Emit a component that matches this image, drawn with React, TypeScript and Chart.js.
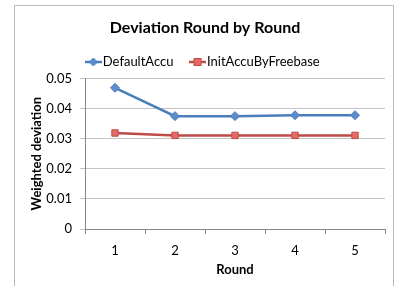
import React, { useEffect, useRef } from "react";
import { Chart, registerables } from "chart.js";

Chart.register(...registerables);

const rounds = ["1", "2", "3", "4", "5"];
const defaultAccu = [0.0469, 0.0375, 0.0375, 0.0378, 0.0378];
const initAccuByFreebase = [0.0319, 0.0311, 0.0311, 0.0311, 0.0311];
const yTicks = [0, 0.01, 0.02, 0.03, 0.04, 0.05];
const yTickLabels = ["0", "0.01", "0.02", "0.03", "0.04", "0.05"];

const BLUE = "#4A7EBB";
const BLUE_FILL = "#5B8DCB";
const RED = "#BE4B48";
const RED_FILL = "#E56B68";
const FONT = "Lato, 'Open Sans', sans-serif";

function legendImage(kind: "diamond" | "square"): HTMLCanvasElement {
  const c = document.createElement("canvas");
  c.width = 17;
  c.height = 10;
  const ctx = c.getContext("2d")!;
  ctx.strokeStyle = kind === "diamond" ? BLUE : RED;
  ctx.lineWidth = 2.5;
  ctx.beginPath();
  ctx.moveTo(0, 5);
  ctx.lineTo(17, 5);
  ctx.stroke();
  if (kind === "diamond") {
    ctx.fillStyle = BLUE_FILL;
    ctx.strokeStyle = BLUE;
    ctx.lineWidth = 1;
    ctx.beginPath();
    ctx.moveTo(8.5, 1);
    ctx.lineTo(12.5, 5);
    ctx.lineTo(8.5, 9);
    ctx.lineTo(4.5, 5);
    ctx.closePath();
    ctx.fill();
    ctx.stroke();
  } else {
    ctx.fillStyle = RED_FILL;
    ctx.strokeStyle = RED;
    ctx.lineWidth = 1;
    ctx.fillRect(5, 1.5, 7, 7);
    ctx.strokeRect(5, 1.5, 7, 7);
  }
  return c;
}

export default function App() {
  const ref = useRef<HTMLCanvasElement | null>(null);
  useEffect(() => {
    if (!ref.current) return;
    const imgs = [legendImage("diamond"), legendImage("square")];
    const chart = new Chart(ref.current, {
      type: "line",
      data: {
        labels: rounds,
        datasets: [
          {
            label: "DefaultAccu",
            data: defaultAccu,
            borderColor: BLUE,
            backgroundColor: BLUE_FILL,
            borderWidth: 2.5,
            pointStyle: "rectRot",
            pointRadius: 4.5,
            pointBorderWidth: 1,
            pointBorderColor: BLUE,
            pointBackgroundColor: BLUE_FILL,
            tension: 0,
          },
          {
            label: "InitAccuByFreebase",
            data: initAccuByFreebase,
            borderColor: RED,
            backgroundColor: RED_FILL,
            borderWidth: 2.5,
            pointStyle: "rect",
            pointRadius: 4.5,
            pointBorderWidth: 1,
            pointBorderColor: RED,
            pointBackgroundColor: RED_FILL,
            tension: 0,
          },
        ],
      },
      options: {
        animation: false,
        responsive: false,
        maintainAspectRatio: false,
        layout: { padding: { left: 11, right: 9, top: 0, bottom: 0 } },
        plugins: {
          tooltip: { enabled: false },
          title: {
            display: true,
            text: "Deviation Round by Round",
            color: "#000",
            font: { family: FONT, size: 16, weight: "bold" },
            padding: { top: 13, bottom: -2.7 },
          },
          legend: {
            display: true,
            position: "top",
            labels: {
              usePointStyle: true,
              pointStyleWidth: 6,
              padding: 21,
              color: "#000",
              font: { family: FONT, size: 13 },
              generateLabels: (ch: any) => {
                const items = Chart.defaults.plugins.legend.labels.generateLabels(ch);
                return items.map((it: any, i: number) => ({ ...it, pointStyle: imgs[i] }));
              },
            },
          },
        },
        scales: {
          x: {
            type: "category",
            offset: true,
            grid: {
              display: true,
              drawOnChartArea: false,
              drawTicks: true,
              tickLength: 5,
              offset: true,
              color: "#868686",
            },
            border: { display: true, color: "#868686", width: 1 },
            ticks: { color: "#000", padding: 9, font: { family: FONT, size: 13 } },
            title: {
              display: true,
              text: "Round",
              color: "#000",
              font: { family: FONT, size: 13, weight: "bold" },
              padding: { top: 2, bottom: 8.5 },
            },
            afterFit: (s: any) => {
              s.height = 57;
            },
          },
          y: {
            type: "linear",
            min: 0,
            max: 0.05,
            afterBuildTicks: (s: any) => {
              s.ticks = yTicks.map((v) => ({ value: v }));
            },
            grid: {
              display: true,
              color: "#c4c4c4",
              drawTicks: true,
              tickLength: 5,
              lineWidth: 1,
            },
            border: { display: true, color: "#868686", width: 1 },
            ticks: {
              color: "#000",
              padding: 8,
              font: { family: FONT, size: 13 },
              callback: (_v: any, i: number) => yTickLabels[i],
            },
            title: {
              display: true,
              text: "Weighted deviation",
              color: "#000",
              font: { family: FONT, size: 13, weight: "bold" },
              padding: { top: 4, bottom: 4 },
            },
            afterFit: (s: any) => {
              s.width = 60;
            },
          },
        },
      },
    });
    return () => chart.destroy();
  }, []);

  return (
    <div style={{ position: "fixed", left: 0, top: 0, width: 396, height: 286, background: "#fff", overflow: "hidden" }}>
      <canvas ref={ref} width={380} height={281} style={{ position: "absolute", left: 14, top: 5, width: 380, height: 281 }} />
      <div
        style={{
          position: "absolute",
          left: 14,
          top: 5,
          width: 380,
          height: 300,
          border: "1px solid #b8b8b8",
          boxSizing: "border-box",
          pointerEvents: "none",
        }}
      />
    </div>
  );
}
